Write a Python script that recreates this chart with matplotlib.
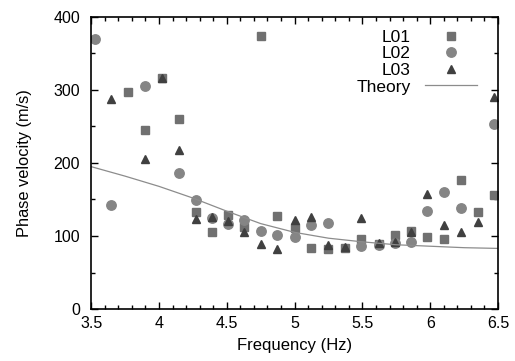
import numpy as np
import matplotlib
matplotlib.use("Agg")
import matplotlib.pyplot as plt
from matplotlib.ticker import MultipleLocator

plt.rcParams['font.family'] = ['Liberation Sans', 'DejaVu Sans']

nan = np.nan
freq = [3.53, 3.65, 3.775, 3.90, 4.02, 4.15, 4.27, 4.39, 4.51, 4.63, 4.75, 4.87,
        5.00, 5.12, 5.25, 5.37, 5.49, 5.62, 5.74, 5.86, 5.98, 6.10, 6.23, 6.35, 6.47]
L01 = [nan, nan, 297, 245, 317, 260, 133, 106, 129, 113, 374, 128,
       111, 84, 82, 84, 96, 89, 101, 107, 99, 96, 177, 133, 156]
L02 = [370, 143, nan, 306, nan, 186, 149, 125, 117, 122, 107, 102,
       98, 115, 118, nan, 86, 88, 90, 92, 134, 160, 139, nan, 253]
L03 = [nan, 288, nan, 205, 317, 218, 123, 126, 120, 106, 89, 82,
       122, 126, 88, 85, 125, 90, 92, 105, 158, 115, 105, 119, 291]
theory_f = [3.5, 3.75, 4.0, 4.25, 4.5, 4.75, 5.0, 5.25, 5.5, 5.75, 6.0, 6.25, 6.5]
theory_v = [195, 182, 168, 152, 134, 117, 105, 97, 92, 88, 86, 84, 83]

fig = plt.figure(figsize=(5.15, 3.61), dpi=100)
ax = fig.add_axes([0.177, 0.144, 0.790, 0.809])

ax.plot(freq, L01, 's', color='#707070', markersize=6.2, linestyle='none', label='L01')
ax.plot(freq, L02, 'o', color='#858585', markersize=6.8, linestyle='none', label='L02')
ax.plot(freq, L03, '^', color='#404040', markersize=6.2, linestyle='none', label='L03')
ax.plot(theory_f, theory_v, '-', color='#8c8c8c', linewidth=0.9, label='Theory')

ax.set_xlim(3.5, 6.5)
ax.set_ylim(0, 400)
ax.xaxis.set_minor_locator(MultipleLocator(0.1))
ax.yaxis.set_major_locator(MultipleLocator(100))
ax.yaxis.set_minor_locator(MultipleLocator(50))
ax.set_xticks([3.5, 4, 4.5, 5, 5.5, 6, 6.5])
ax.set_xticklabels(['3.5', '4', '4.5', '5', '5.5', '6', '6.5'])
ax.tick_params(which='both', direction='in', top=True, right=True, labelsize=11.5)
ax.tick_params(axis='x', pad=5)
ax.tick_params(axis='y', pad=8)
ax.tick_params(which='major', length=5, width=1)
ax.tick_params(which='minor', length=3, width=1)
for s in ax.spines.values():
    s.set_linewidth(1.2)

ax.set_xlabel('Frequency (Hz)', fontsize=12, labelpad=5)
ax.set_ylabel('Phase velocity (m/s)', fontsize=11.8, labelpad=15)

ax.legend(loc='upper right', bbox_to_anchor=(0.965, 0.98), frameon=False, markerfirst=False,
          fontsize=12.5, handlelength=3.0, labelspacing=0.08, handletextpad=0.8,
          borderaxespad=0.0)

fig.savefig('out.png', dpi=100)
